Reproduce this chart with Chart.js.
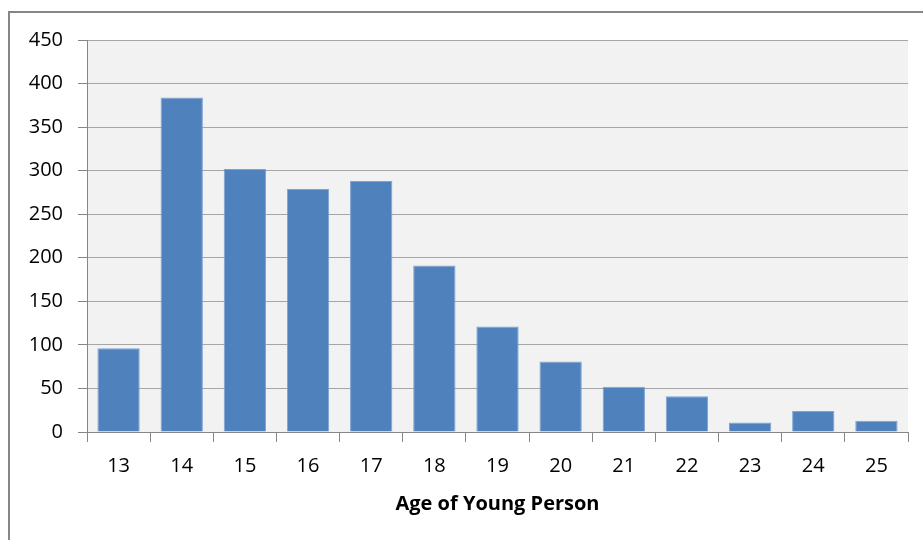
<!DOCTYPE html>
<html>
<head>
<meta charset="utf-8">
<script src="https://cdn.jsdelivr.net/npm/chart.js@4.4.1/dist/chart.umd.min.js"></script>
<style>
  html, body { margin: 0; padding: 0; background: #fff; }
  #wrap { width: 923px; height: 540px; }
</style>
</head>
<body>
<div id="wrap"><canvas id="ageChart" width="923" height="540"></canvas></div>
<script>
// Data
var ages = ['13', '14', '15', '16', '17', '18', '19', '20', '21', '22', '23', '24', '25'];
var counts = [96, 384, 302, 279, 288, 191, 121, 81, 52, 41, 11, 24, 13];
var yMax = 450;
var yStep = 50;

// Plot background and outer frame
var framePlugin = {
    id: 'frame',
    beforeDraw: function(chart) {
        var c = chart.ctx;
        var a = chart.chartArea;
        c.save();
        c.fillStyle = '#f2f2f2';
        c.fillRect(a.left, a.top, a.right - a.left, a.bottom - a.top);
        c.strokeStyle = '#868686';
        c.lineWidth = 2;
        c.beginPath();
        c.moveTo(9, chart.height);
        c.lineTo(9, 12);
        c.lineTo(chart.width, 12);
        c.stroke();
        c.restore();
    }
};

var ctx = document.getElementById('ageChart').getContext('2d');
new Chart(ctx, {
    type: 'bar',
    data: {
        labels: ages,
        datasets: [{
            data: counts,
            backgroundColor: '#4f81bd',
            borderColor: '#7ea3d3',
            borderWidth: 1,
            barPercentage: 0.67,
            categoryPercentage: 1
        }]
    },
    options: {
        responsive: false,
        animation: false,
        layout: {
            padding: { left: 0, right: 15, top: 40, bottom: 13 }
        },
        plugins: {
            legend: { display: false },
            tooltip: { enabled: false }
        },
        scales: {
            x: {
                grid: {
                    drawOnChartArea: false,
                    drawTicks: true,
                    tickLength: 10,
                    color: '#868686'
                },
                border: { color: '#868686' },
                ticks: {
                    color: '#000',
                    padding: 12,
                    font: { family: 'Open Sans', size: 20 }
                },
                title: {
                    display: true,
                    text: 'Age of Young Person',
                    color: '#000',
                    padding: { top: 2, bottom: 11 },
                    font: { family: 'Open Sans', size: 20, weight: 'bold' }
                }
            },
            y: {
                min: 0,
                max: yMax,
                afterFit: function(scale) { scale.width = 87; },
                grid: {
                    color: '#a6a6a6',
                    tickLength: 9,
                    tickColor: '#868686'
                },
                border: { color: '#868686' },
                ticks: {
                    stepSize: yStep,
                    color: '#000',
                    padding: 15,
                    font: { family: 'Open Sans', size: 20 }
                }
            }
        }
    },
    plugins: [framePlugin]
});
</script>
</body>
</html>
